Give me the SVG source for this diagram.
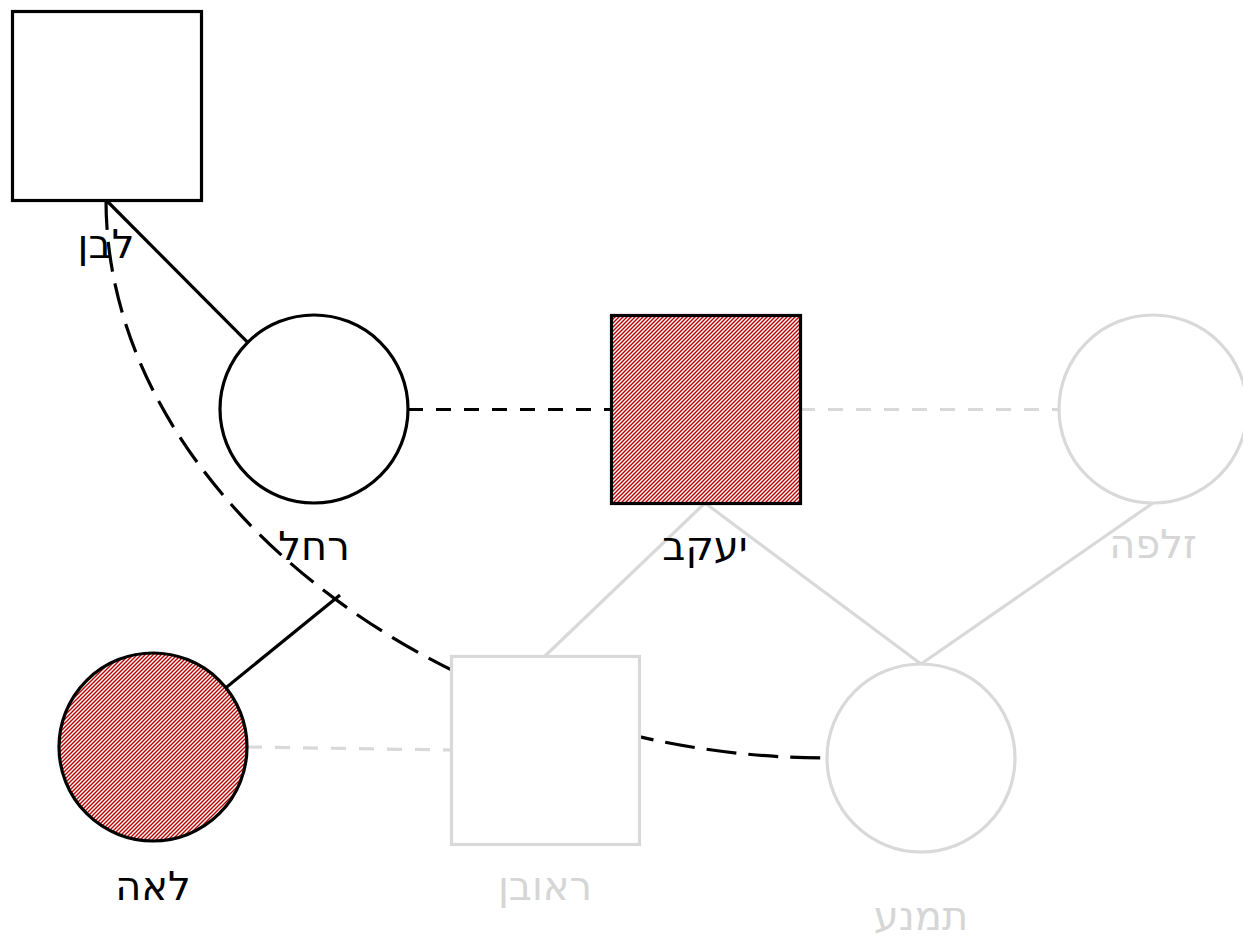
<svg xmlns="http://www.w3.org/2000/svg" width="1243" height="937" viewBox="0 0 1243 937">
<defs>
<pattern id="hatch" patternUnits="userSpaceOnUse" width="4" height="4">
<rect width="4" height="4" fill="#ffffff"/>
<path d="M-1,1 L1,-1 M0,4 L4,0 M3,5 L5,3" stroke="#b80000" stroke-width="1.4"/>
</pattern>
<style>
.blk{stroke:#000;stroke-width:3.2;fill:none}
.gry{stroke:#d9d9d9;stroke-width:3.2;fill:none}
.dash{stroke-dasharray:15 13}
.cdash{stroke-dasharray:30 12}
.nb{stroke:#000;stroke-width:3.2;fill:#fff}
.ng{stroke:#d9d9d9;stroke-width:3.2;fill:#fff}
.nh{stroke:#000;stroke-width:3.2;fill:url(#hatch)}
.lb{font-family:"DejaVu Sans",sans-serif;font-size:40px;text-anchor:middle;fill:#000}
.lg{font-family:"DejaVu Sans",sans-serif;font-size:40px;text-anchor:middle;fill:#d6d6d6}
</style>
</defs>
<rect width="1243" height="937" fill="#fff"/>
<g id="connectors">
<line class="blk" x1="106" y1="200" x2="314" y2="409"/>
<line class="blk dash" x1="408" y1="409.5" x2="611" y2="409.5"/>
<line class="gry dash" x1="800" y1="409.5" x2="1059" y2="409.5"/>
<line class="gry" x1="705" y1="503" x2="545" y2="656"/>
<line class="gry" x1="705" y1="503" x2="921" y2="664"/>
<line class="gry" x1="1153" y1="503" x2="921" y2="664"/>
<line class="blk" x1="153" y1="747" x2="340" y2="595"/>
<line class="gry dash" x1="247" y1="747" x2="451" y2="750"/>
<path class="blk cdash" d="M106,200 C106,500 450,758 827,758"/>
</g>
<g id="laban"><rect class="nb" x="12.5" y="11.5" width="189" height="189"/><text class="lb" x="106" y="258">לבן</text></g>
<g id="rachel"><circle class="nb" cx="314" cy="409" r="94"/><text class="lb" x="314" y="560">רחל</text></g>
<g id="jacob"><rect class="nh" x="611.5" y="315.5" width="189" height="188"/><text class="lb" x="705" y="560">יעקב</text></g>
<g id="zilpah"><circle class="ng" cx="1153" cy="409" r="94"/><text class="lg" x="1153" y="558">זלפה</text></g>
<g id="leah"><circle class="nh" cx="153" cy="747" r="94"/><text class="lb" x="153" y="900">לאה</text></g>
<g id="reuven"><rect class="ng" x="451.5" y="656.5" width="188" height="188"/><text class="lg" x="545" y="900">ראובן</text></g>
<g id="timna"><circle class="ng" cx="921" cy="758" r="94"/><text class="lg" x="921" y="930">תמנע</text></g>
</svg>
